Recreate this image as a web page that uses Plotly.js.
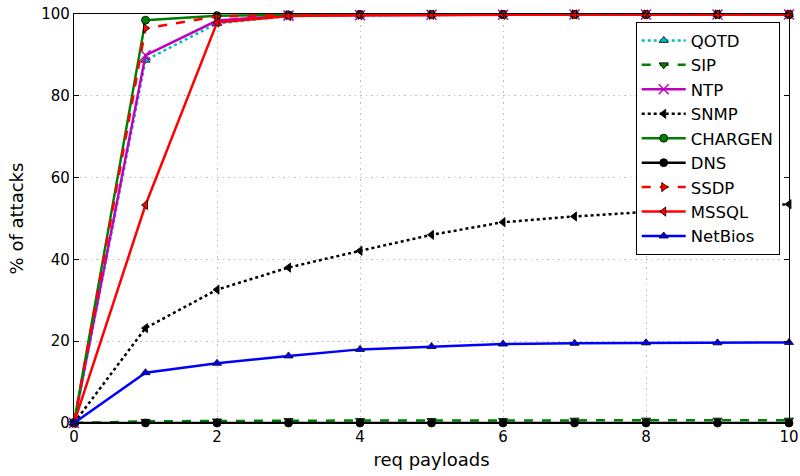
<!DOCTYPE html>
<html>
<head>
<meta charset="utf-8">
<script src="https://cdn.plot.ly/plotly-3.0.1.min.js"></script>
<style>html,body{margin:0;padding:0;background:#fff;}#chart{width:800px;height:476px;}</style>
</head>
<body>
<div id="chart"></div>
<script>
const xPayloads = [0, 1, 2, 3, 4, 5, 6, 7, 8, 9, 10];
const qotd    = [0, 88.7, 97.7, 99.5, 99.7, 99.8, 99.8, 99.9, 99.9, 99.9, 99.9];
const sip     = [0, 0.4, 0.5, 0.6, 0.6, 0.6, 0.6, 0.7, 0.7, 0.7, 0.7];
const ntp     = [0, 89.9, 98.4, 99.6, 99.7, 99.8, 99.8, 99.9, 99.9, 99.9, 99.9];
const snmp    = [0, 23.2, 32.6, 38.0, 42.1, 46.0, 49.1, 50.5, 51.6, 52.6, 53.5];
const chargen = [0, 98.5, 99.6, 99.8, 99.9, 99.9, 99.9, 99.9, 99.9, 99.9, 99.9];
const dns     = [0, 0, 0, 0, 0, 0, 0, 0, 0, 0, 0];
const ssdp    = [0, 96.5, 99.4, 99.7, 99.8, 99.8, 99.9, 99.9, 99.9, 99.9, 99.9];
const mssql   = [0, 53.3, 97.9, 99.5, 99.7, 99.8, 99.8, 99.9, 99.9, 99.9, 99.9];
const netbios = [0, 12.3, 14.6, 16.4, 18.0, 18.7, 19.3, 19.5, 19.6, 19.6, 19.7];

const seriesNames = ['QOTD', 'SIP', 'NTP', 'SNMP', 'CHARGEN', 'DNS', 'SSDP', 'MSSQL', 'NetBios'];
const seriesData = [qotd, sip, ntp, snmp, chargen, dns, ssdp, mssql, netbios];
const styles = [
  {color: '#00bfbf', dash: 'dot', symbol: 'triangle-up'},
  {color: '#008000', dash: 'dash', symbol: 'triangle-down'},
  {color: '#bf00bf', dash: 'solid', symbol: 'x-thin-open'},
  {color: '#000000', dash: 'dot', symbol: 'triangle-left'},
  {color: '#008000', dash: 'solid', symbol: 'circle'},
  {color: '#000000', dash: 'solid', symbol: 'circle'},
  {color: '#ff0000', dash: 'dash', symbol: 'triangle-right'},
  {color: '#ff0000', dash: 'solid', symbol: 'triangle-left'},
  {color: '#0000ff', dash: 'solid', symbol: 'triangle-up'}
];

const traces = seriesNames.map((name, i) => {
  const s = styles[i];
  const isX = s.symbol === 'x-thin-open';
  return {
    x: xPayloads,
    y: seriesData[i],
    name: name,
    type: 'scatter',
    mode: 'lines+markers',
    cliponaxis: false,
    line: {color: s.color, width: 2.5, dash: s.dash},
    marker: {
      symbol: s.symbol,
      size: isX ? 10 : 8,
      color: s.color,
      line: {color: isX ? s.color : '#000000', width: isX ? 1.5 : 0.8}
    }
  };
});

const layout = {
  width: 800,
  height: 476,
  margin: {l: 74, r: 11, t: 14, b: 53},
  paper_bgcolor: '#ffffff',
  plot_bgcolor: '#ffffff',
  font: {family: 'DejaVu Sans, sans-serif', size: 14, color: '#000'},
  showlegend: true,
  legend: {
    x: 0.987, xanchor: 'right', y: 0.98, yanchor: 'top',
    bgcolor: '#ffffff', bordercolor: '#000000', borderwidth: 1,
    font: {family: 'DejaVu Sans, sans-serif', size: 16.5, color: '#000'},
    itemwidth: 44,
    tracegroupgap: 0
  },
  xaxis: {
    range: [0, 10],
    tickvals: [0, 2, 4, 6, 8, 10],
    ticktext: ['0', '2', '4', '6', '8', '10'],
    ticks: 'inside', ticklen: 5, tickcolor: '#000',
    showline: true, linecolor: '#000', linewidth: 1.2, mirror: 'ticks',
    showgrid: true, gridcolor: '#bdbdbd', griddash: '1.5px,4px', gridwidth: 1,
    zeroline: false,
    tickfont: {size: 15},
    title: {text: 'req payloads', font: {size: 18}, standoff: 8}
  },
  yaxis: {
    range: [0, 100],
    tickvals: [0, 20, 40, 60, 80, 100],
    ticktext: ['0', '20', '40', '60', '80', '100'],
    ticks: 'inside', ticklen: 5, tickcolor: '#000',
    showline: true, linecolor: '#000', linewidth: 1.2, mirror: 'ticks',
    showgrid: true, gridcolor: '#bdbdbd', griddash: '1.5px,4px', gridwidth: 1,
    zeroline: false,
    tickfont: {size: 15},
    title: {text: '% of attacks', font: {size: 18}, standoff: 12}
  }
};

Plotly.newPlot('chart', traces, layout, {displayModeBar: false, staticPlot: true});
</script>
</body>
</html>
